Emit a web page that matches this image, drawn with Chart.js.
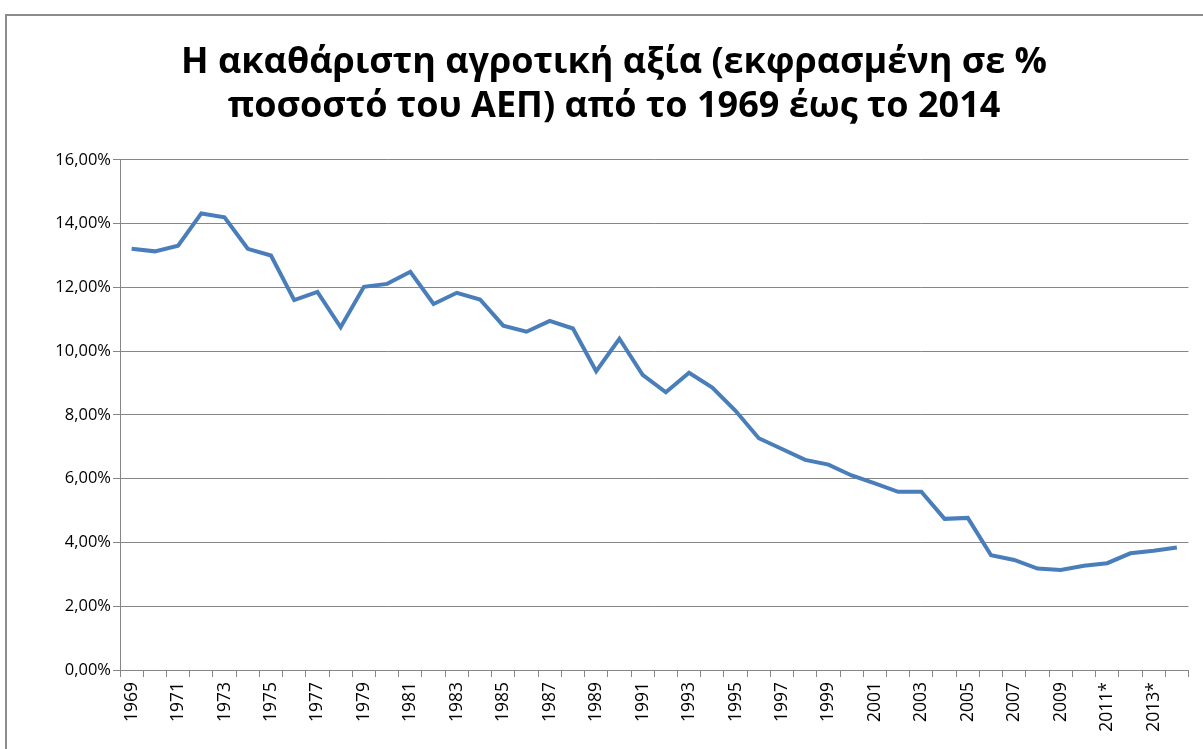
<!DOCTYPE html>
<html>
<head>
<meta charset="utf-8">
<script src="https://cdn.jsdelivr.net/npm/chart.js@4/dist/chart.umd.min.js"></script>
<style>
  body { margin: 0; background: #fff; overflow: hidden; }
  #frame {
    position: absolute; left: 5px; top: 14px;
    width: 1230px; height: 760px;
    border-left: 2px solid #8c8c8c; border-top: 2px solid #8c8c8c;
  }
  #wrap { position: absolute; left: 0; top: 0; width: 1196px; height: 733px; }
</style>
</head>
<body>
<div id="frame"><div id="wrap"><canvas id="chart"></canvas></div></div>
<script>
const years = ["1969","1970","1971","1972","1973","1974","1975","1976","1977","1978",
  "1979","1980","1981","1982","1983","1984","1985","1986","1987","1988",
  "1989","1990","1991","1992","1993","1994","1995","1996","1997","1998",
  "1999","2000","2001","2002","2003","2004","2005","2006","2007","2008",
  "2009","2010","2011*","2012*","2013*","2014*"];
const gvaShare = [13.21, 13.13, 13.31, 14.32, 14.20, 13.21, 13.00, 11.60, 11.86, 10.75,
  12.02, 12.11, 12.49, 11.48, 11.83, 11.62, 10.80, 10.61, 10.95, 10.71,
  9.37, 10.39, 9.26, 8.71, 9.32, 8.86, 8.13, 7.27, 6.93, 6.59,
  6.44, 6.10, 5.85, 5.59, 5.59, 4.74, 4.77, 3.60, 3.45, 3.18,
  3.14, 3.27, 3.35, 3.66, 3.74, 3.84];
const titleLines = ["Η ακαθάριστη αγροτική αξία (εκφρασμένη σε %",
  "ποσοστό του ΑΕΠ) από το 1969 έως το 2014"];

const gridColor = "#868686";

new Chart(document.getElementById("chart"), {
  type: "line",
  data: {
    labels: years,
    datasets: [{
      data: gvaShare,
      borderColor: "#4a7ebb",
      borderWidth: 4,
      pointRadius: 0,
      tension: 0,
      fill: false
    }]
  },
  options: {
    responsive: true,
    maintainAspectRatio: false,
    animation: false,
    layout: { padding: { top: 0, right: 13, bottom: 0, left: 31 } },
    plugins: {
      legend: { display: false },
      tooltip: { enabled: false },
      title: {
        display: true,
        text: titleLines,
        color: "#000",
        font: { family: "Open Sans", size: 36, weight: "bold", lineHeight: 1.22 },
        padding: { top: 25, bottom: 31 }
      }
    },
    scales: {
      x: {
        offset: true,
        afterFit: (s) => { s.height = 79; },
        border: { color: gridColor, width: 1 },
        grid: { offset: true, drawOnChartArea: false, drawTicks: true, tickLength: 7, color: gridColor },
        ticks: {
          autoSkip: false,
          minRotation: 90,
          maxRotation: 90,
          padding: 5,
          color: "#000",
          font: { family: "Open Sans", size: 17.5 },
          callback: function (v, i) { return i % 2 === 0 ? this.getLabelForValue(v) : ""; }
        }
      },
      y: {
        min: 0,
        max: 16,
        afterFit: (s) => { s.width = 82; },
        border: { color: gridColor, width: 1 },
        grid: { color: gridColor, lineWidth: 1, drawTicks: true, tickLength: 7 },
        ticks: {
          stepSize: 2,
          padding: 2,
          color: "#000",
          font: { family: "Open Sans", size: 16.5 },
          callback: (v) => v.toFixed(2).replace(".", ",") + "%"
        }
      }
    }
  }
});
</script>
</body>
</html>
